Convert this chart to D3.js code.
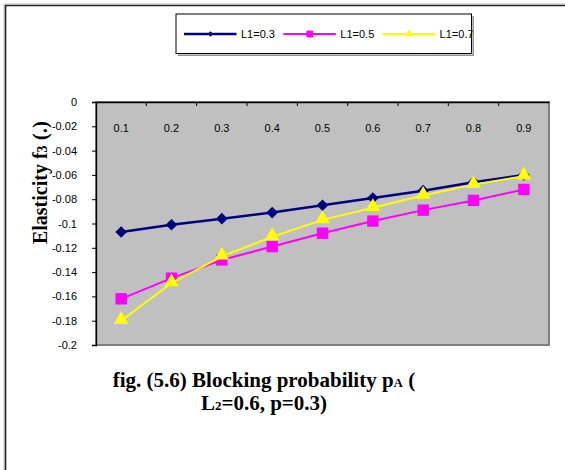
<!DOCTYPE html>
<html>
<head>
<meta charset="utf-8">
<script src="https://d3js.org/d3.v7.min.js"></script>
<style>
  body { margin: 0; background: #fff; }
  svg { display: block; }
  .tick text { font-family: Arial, "Liberation Sans", sans-serif; font-size: 11px; fill: #000; }
</style>
</head>
<body>
<div id="viz"></div>
<script>
// chart data
const categories = ["0.1","0.2","0.3","0.4","0.5","0.6","0.7","0.8","0.9"]
const seriesNames = ["L1=0.3","L1=0.5","L1=0.7"]
const valuesL03 = [-0.107,-0.101,-0.096,-0.091,-0.085,-0.079,-0.073,-0.066,-0.060]
const valuesL05 = [-0.162,-0.145,-0.130,-0.119,-0.108,-0.098,-0.089,-0.081,-0.072]
const valuesL07 = [-0.180,-0.149,-0.127,-0.111,-0.097,-0.087,-0.077,-0.068,-0.061]
const yTicks = [0,-0.02,-0.04,-0.06,-0.08,-0.1,-0.12,-0.14,-0.16,-0.18,-0.2]

const width = 565
const height = 470
const plot = {left: 96, top: 102, right: 549, bottom: 345}
const colors = ["#000080","#FF00FF","#FFFF00"]
// diamond = square turned 45 degrees
const shapes = [d3.symbolSquare, d3.symbolSquare, d3.symbolTriangle]
const turns = [45, 0, 0]

const series = seriesNames.map((name, i) => ({
  name: name,
  values: [valuesL03, valuesL05, valuesL07][i],
  color: colors[i],
  shape: shapes[i],
  turn: turns[i]
}))

const svg = d3.select("#viz")
  .append("svg")
  .attr("width", width)
  .attr("height", height)

// outer frame
svg.append("path")
  .attr("d", "M4,470V4H565")
  .attr("fill", "none")
  .attr("stroke", "#c8c8c8")
  .attr("stroke-width", 1)
svg.append("path")
  .attr("d", "M5.5,470V5.5H565")
  .attr("fill", "none")
  .attr("stroke", "#222")
  .attr("stroke-width", 1.6)

const xScale = d3.scaleBand().domain(categories).range([plot.left, plot.right])
const yScale = d3.scaleLinear().domain([-0.2, 0]).range([plot.bottom, plot.top])

// plot area
svg.append("rect")
  .attr("x", plot.left)
  .attr("y", plot.top)
  .attr("width", plot.right - plot.left)
  .attr("height", plot.bottom - plot.top)
  .attr("fill", "#C0C0C0")
  .attr("stroke", "#808080")
  .attr("stroke-width", 2)

// y axis title (drawn first so tick labels stay on top)
const yTitle = svg.append("text")
  .attr("transform", "translate(47,182.5) rotate(-90)")
  .attr("text-anchor", "middle")
  .style("font-family", "'Times New Roman', 'Liberation Serif', serif")
  .style("font-weight", "bold")
  .style("font-size", "20px")
yTitle.append("tspan").text("Elasticity f")
yTitle.append("tspan").style("font-size", "14px").text("3")
yTitle.append("tspan").style("font-size", "21px").text(" (.)")

// y axis
const yAxisG = svg.append("g")
  .attr("transform", "translate(" + plot.left + ",0)")
  .call(d3.axisLeft(yScale)
    .tickValues(yTicks)
    .tickFormat(d => d === 0 ? "0" : String(d))
    .tickSize(4)
    .tickPadding(15))
yAxisG.select(".domain").attr("stroke", "#000").attr("stroke-width", 1.3)

// x axis along value 0 (top), labels inside plot
const xAxisG = svg.append("g")
  .attr("transform", "translate(0," + yScale(0) + ")")
  .call(d3.axisBottom(xScale).tickSize(0).tickPadding(26))
xAxisG.select(".domain").attr("stroke", "#000").attr("stroke-width", 1.3)
xAxisG.selectAll(".tick text").attr("dy", "0.32em")

// category boundary ticks
svg.selectAll(".cat-tick")
  .data(categories.slice(1))
  .enter().append("line")
  .attr("class", "cat-tick")
  .attr("x1", d => xScale(d))
  .attr("x2", d => xScale(d))
  .attr("y1", yScale(0))
  .attr("y2", yScale(0) + 4)
  .attr("stroke", "#000")

// lines
const line = d3.line()
  .x((d, i) => xScale(categories[i]) + xScale.bandwidth()/2)
  .y(d => yScale(d))

const sizes = [68, 130, 95]
const seriesG = svg.selectAll(".series")
  .data(series)
  .enter().append("g")
  .attr("class", "series")

seriesG.append("path")
  .attr("d", d => line(d.values))
  .attr("fill", "none")
  .attr("stroke", d => d.color)
  .attr("stroke-width", (d, i) => i === 0 ? 2.5 : 2)

seriesG.selectAll(".pt")
  .data((d, i) => d.values.map(v => ({v: v, s: d, k: i})))
  .enter().append("path")
  .attr("class", "pt")
  .attr("transform", (d, i) => "translate(" + (xScale(categories[i]) + xScale.bandwidth()/2) + "," + (yScale(d.v) + (d.k === 2 ? -1 : 0)) + ") rotate(" + d.s.turn + ")")
  .attr("d", d => d3.symbol().type(d.s.shape).size(sizes[d.k])())
  .attr("fill", d => d.s.color)

// legend
const legend = svg.append("g")
svg.append("path")
  .attr("d", "M178,55.2H473.2V16")
  .attr("fill", "none")
  .attr("stroke", "#909090")
  .attr("stroke-width", 1.5)
legend.append("rect")
  .attr("x", 176)
  .attr("y", 14)
  .attr("width", 295.5)
  .attr("height", 39.5)
  .attr("fill", "#fff")
  .attr("stroke", "#000")
  .attr("stroke-width", 1)

const legendSizes = [14, 45, 28]
const item = legend.selectAll(".item")
  .data(series)
  .enter().append("g")
  .attr("class", "item")
  .attr("transform", (d, i) => "translate(" + (184 + i*99.3) + ",34)")
item.append("line")
  .attr("x1", 0).attr("x2", 52.5)
  .attr("stroke", d => d.color)
  .attr("stroke-width", (d, i) => i === 0 ? 2.5 : 2)
item.append("path")
  .attr("transform", d => "translate(26.5,0) rotate(" + d.turn + ")")
  .attr("d", (d, i) => d3.symbol().type(d.shape).size(legendSizes[i])())
  .attr("fill", d => d.color)
item.append("text")
  .attr("x", 57)
  .attr("y", 4)
  .style("font-family", "Arial, 'Liberation Sans', sans-serif")
  .style("font-size", "11px")
  .text(d => d.name)

// caption
const caption = svg.append("text")
  .attr("text-anchor", "middle")
  .style("font-family", "'Times New Roman', 'Liberation Serif', serif")
  .style("font-weight", "bold")
  .style("font-size", "21px")
const line1 = caption.append("tspan").attr("x", 264).attr("y", 387)
line1.append("tspan").text("fig. (5.6) Blocking probability p")
line1.append("tspan").style("font-size", "13px").text("A")
line1.append("tspan").text(" (")
const line2 = caption.append("tspan").attr("x", 264).attr("y", 410)
line2.append("tspan").text("L")
line2.append("tspan").style("font-size", "13px").text("2")
line2.append("tspan").text("=0.6, p=0.3)")
</script>
</body>
</html>
